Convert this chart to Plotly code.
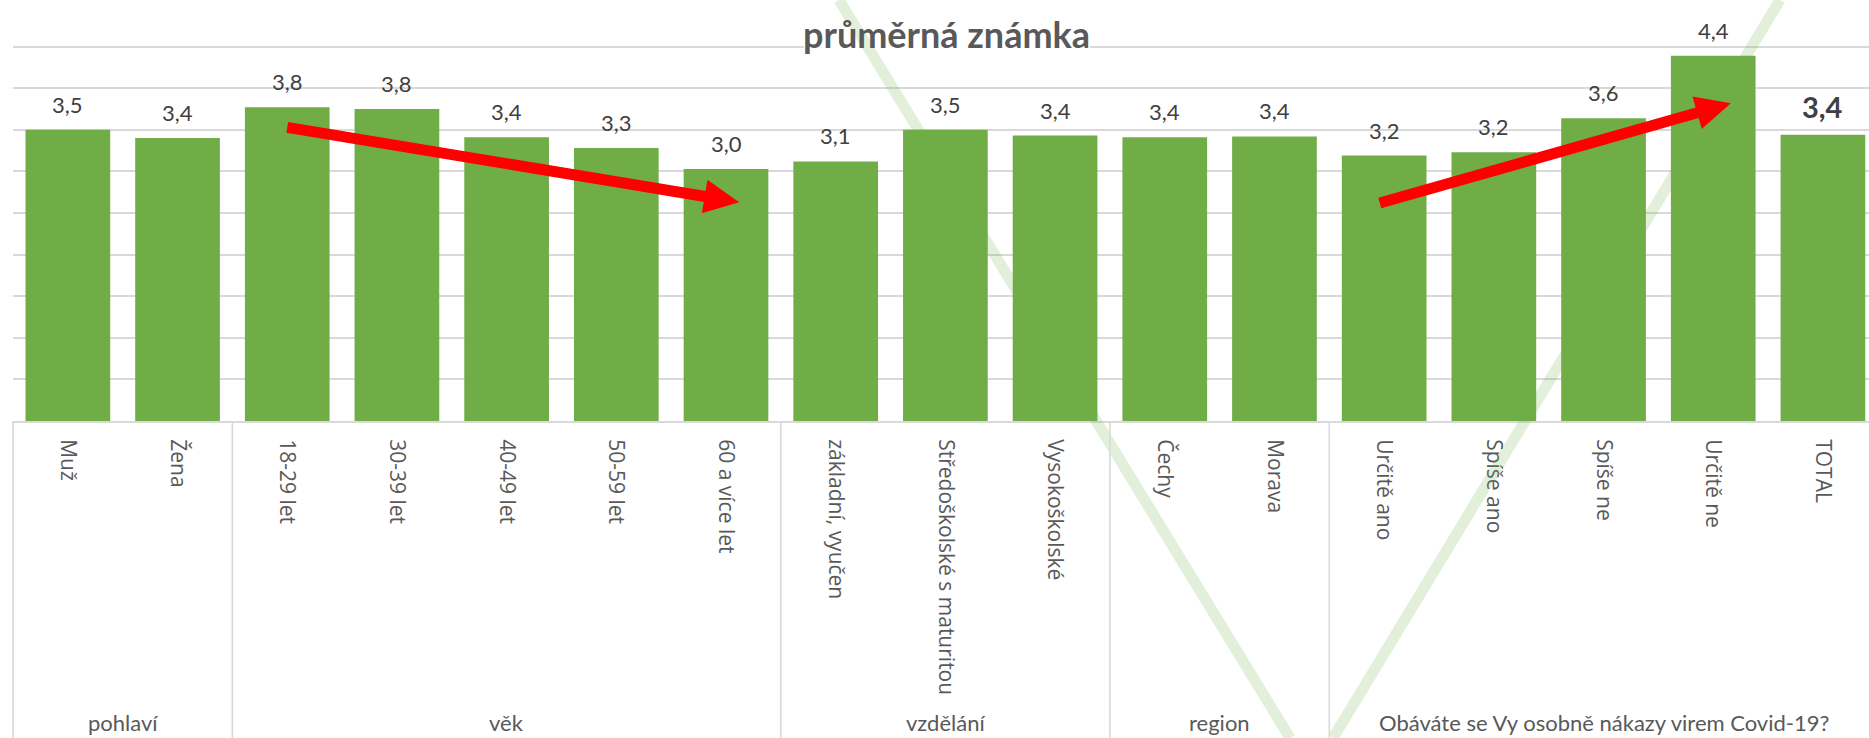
import math
import plotly.graph_objects as go

# ---------------- data ----------------
categories = ["Muž", "Žena", "18-29 let", "30-39 let", "40-49 let", "50-59 let",
              "60 a více let", "základní, vyučen", "Středoškolské s maturitou",
              "Vysokoškolské", "Čechy", "Morava", "Určitě ano", "Spíše ano",
              "Spíše ne", "Určitě ne", "TOTAL"]
values = [3.50, 3.40, 3.77, 3.75, 3.41, 3.28, 3.03, 3.12, 3.50, 3.43,
          3.41, 3.42, 3.19, 3.23, 3.64, 4.39, 3.44]
groups = ["pohlaví", "věk", "vzdělání", "region",
          "Obáváte se Vy osobně nákazy virem Covid-19?"]
group_sizes = [2, 5, 3, 2, 5]
title_text = "průměrná známka"

# trend arrows (category index, value) -> decoration only
arrow_down = ((2.0, 3.53), (6.12, 2.63))
arrow_up = ((11.96, 2.62), (15.16, 3.82))

# ---------------- geometry ----------------
FW, FH = 1869, 738
L, T, R_M, B = 13, 5, 0, 317
W = FW - L - R_M
H = FH - T - B
XMAX = 16.42
YMAX = 5.0

GREEN = "#70ad47"
GRID = "#d9d9d9"
TXT = "#595959"


def px2x(X):
    return (X - L) / W


def px2y(Y):
    return 1 - (Y - T) / H


def d2px(x, y):
    X = L + (x + 0.5) / (XMAX + 0.5) * W
    Y = T + (1 - y / YMAX) * H
    return X, Y


fig = go.Figure()
fig.add_trace(go.Bar(
    x=categories, y=values, marker=dict(color=GREEN, line=dict(width=0)),
    hoverinfo="skip", showlegend=False,
))

shapes = []
annotations = []

# white box behind title (hides gridline like Excel title fill)
shapes.append(dict(type="rect", xref="paper", yref="paper",
                   x0=px2x(804), x1=px2x(1090), y0=px2y(54), y1=px2y(17),
                   fillcolor="white", line=dict(width=0), layer="above"))

# faint green V lines (decoration)
for (xa, ya, xb, yb) in [(839, 0, 1290, 738), (1780, 0, 1333, 738)]:
    shapes.append(dict(type="line", xref="paper", yref="paper",
                       x0=px2x(xa), y0=px2y(ya), x1=px2x(xb), y1=px2y(yb),
                       line=dict(color="rgba(112,173,71,0.2)", width=11),
                       layer="above"))

# group separators in multi-level axis
bounds = [-0.5]
acc = -0.5
for s in group_sizes[:-1]:
    acc += s
    bounds.append(acc)
for b in bounds:
    xp = (b + 0.5) / (XMAX + 0.5)
    shapes.append(dict(type="line", xref="paper", yref="paper",
                       x0=xp, x1=xp, y0=0, y1=px2y(FH + 2),
                       line=dict(color=GRID, width=1.6), layer="above"))

# red arrows
for (s, e) in [arrow_down, arrow_up]:
    SX, SY = d2px(*s)
    EX, EY = d2px(*e)
    dx, dy = EX - SX, EY - SY
    ln = math.hypot(dx, dy)
    ux, uy = dx / ln, dy / ln
    nx, ny = -uy, ux
    HL, HW = 35, 34
    BX, BY = EX - HL * ux, EY - HL * uy
    shapes.append(dict(type="line", xref="paper", yref="paper",
                       x0=px2x(SX), y0=px2y(SY),
                       x1=px2x(BX + 2 * ux), y1=px2y(BY + 2 * uy),
                       line=dict(color="#ff0000", width=11), layer="above"))
    pts = [(EX, EY), (BX + nx * HW / 2, BY + ny * HW / 2),
           (BX - nx * HW / 2, BY - ny * HW / 2)]
    path = "M " + " L ".join(f"{px2x(a):.6f},{px2y(b):.6f}" for a, b in pts) + " Z"
    shapes.append(dict(type="path", xref="paper", yref="paper", path=path,
                       fillcolor="#ff0000", line=dict(width=0), layer="above"))

# value labels
for i, v in enumerate(values):
    last = i == len(values) - 1
    annotations.append(dict(
        x=i, y=v, xref="x", yref="y", text=f"{v:.1f}".replace(".", ","),
        showarrow=False, yanchor="bottom", yshift=10 if not last else 9,
        font=dict(family="Lato", size=29 if last else 22,
                  color="#404040", weight="bold" if last else "normal"),
    ))

# group labels
start = 0
for g, s in zip(groups, group_sizes):
    center = start + (s - 1) / 2
    annotations.append(dict(
        x=center, y=px2y(722), xref="x", yref="paper", text=g,
        showarrow=False, yanchor="middle",
        font=dict(family="Lato", size=22, color=TXT),
    ))
    start += s

# title
annotations.append(dict(
    x=px2x(946.7), y=px2y(34), xref="paper", yref="paper", text=title_text,
    showarrow=False, yanchor="middle", xanchor="center",
    font=dict(family="Lato", size=36, color=TXT, weight="bold"),
))

fig.update_layout(
    width=FW, height=FH,
    margin=dict(l=L, r=R_M, t=T, b=B, autoexpand=False),
    paper_bgcolor="white", plot_bgcolor="white",
    bargap=0.228,
    showlegend=False,
    shapes=shapes, annotations=annotations,
    xaxis=dict(type="category", range=[-0.5, XMAX], tickangle=90,
               tickfont=dict(family="Open Sans", size=21, color=TXT),
               showline=True, linecolor=GRID, linewidth=2, ticks="",
               showgrid=False, zeroline=False, automargin=False,
               ticklabelstandoff=12, fixedrange=True),
    yaxis=dict(range=[0, YMAX], dtick=0.5, showgrid=True, gridcolor=GRID,
               gridwidth=1.6, showticklabels=False, zeroline=False,
               showline=False, automargin=False, fixedrange=True),
)

fig.write_html(
    "out.html",
    config={"displayModeBar": False},
    post_script="document.body.style.margin='0';document.body.style.padding='0';",
)
